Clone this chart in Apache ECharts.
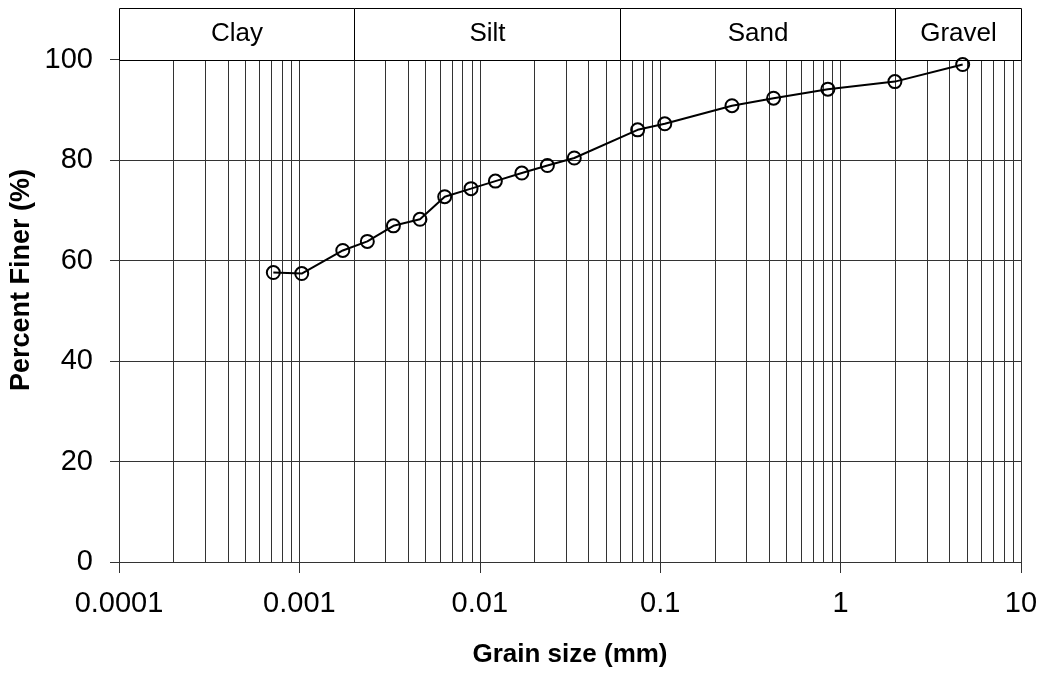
<!DOCTYPE html>
<html lang="en">
<head>
    <meta charset="UTF-8">
    <title>Grain size distribution</title>
    <style>
        html, body { margin: 0; padding: 0; background: #fff; }
        #main { width: 1045px; height: 673px; }
    </style>
    <script src="https://cdn.jsdelivr.net/npm/echarts@6/dist/echarts.min.js"></script>
</head>
<body>
    <div id="main"></div>
    <script type="text/javascript">
        // grain size (mm) and percent finer
        var grainSize = [0.000717, 0.00103, 0.00174, 0.00238, 0.00332, 0.00466, 0.00639, 0.00894,
            0.0122, 0.0171, 0.0237, 0.0334, 0.075, 0.106, 0.25, 0.425, 0.85, 2.0, 4.75];
        var percentFiner = [57.6, 57.4, 62.0, 63.8, 66.9, 68.2, 72.7, 74.3,
            75.8, 77.4, 78.9, 80.4, 86.0, 87.2, 90.8, 92.3, 94.1, 95.6, 99.0];

        // x axis decades and their labels
        var xTickValues = [0.0001, 0.001, 0.01, 0.1, 1, 10];
        var xTickLabels = ['0.0001', '0.001', '0.01', '0.1', '1', '10'];

        // minor vertical grid lines (2..9 in every decade)
        var minorGrid = [
            0.0002, 0.0003, 0.0004, 0.0005, 0.0006, 0.0007, 0.0008, 0.0009,
            0.002, 0.003, 0.004, 0.005, 0.006, 0.007, 0.008, 0.009,
            0.02, 0.03, 0.04, 0.05, 0.06, 0.07, 0.08, 0.09,
            0.2, 0.3, 0.4, 0.5, 0.6, 0.7, 0.8, 0.9,
            2, 3, 4, 5, 6, 7, 8, 9
        ];

        // soil classes in the band above the plot
        var zoneNames = ['Clay', 'Silt', 'Sand', 'Gravel'];
        var zoneLimits = [[0.0001, 0.002], [0.002, 0.06], [0.06, 2], [2, 10]];

        var font = '"Liberation Sans", Arial, sans-serif';
        var gridColor = '#333';

        var chart = echarts.init(document.getElementById('main'));

        var option = {
            animation: false,
            grid: [
                { left: 119, right: 24, top: 59.5, bottom: 110.5 },
                { left: 119, right: 24, top: 8, height: 51.5 }
            ],
            xAxis: [{
                type: 'log',
                logBase: 10,
                min: 0.0001,
                max: 10,
                gridIndex: 0,
                axisLine: { show: true, onZero: false, lineStyle: { color: gridColor, width: 1 } },
                axisTick: { show: true, length: 11, lineStyle: { color: gridColor } },
                minorTick: { show: false },
                axisLabel: {
                    fontSize: 29,
                    fontFamily: font,
                    color: '#000',
                    margin: 27,
                    formatter: function (v) {
                        for (var i = 0; i < xTickValues.length; i++) {
                            if (Math.abs(Math.log10(v) - Math.log10(xTickValues[i])) < 1e-6) return xTickLabels[i];
                        }
                        return '';
                    }
                },
                splitLine: { show: true, lineStyle: { color: gridColor, width: 1 } },
                name: 'Grain size (mm)',
                nameLocation: 'middle',
                nameGap: 80,
                nameTextStyle: { fontSize: 26, fontWeight: 'bold', color: '#000', fontFamily: font }
            }, {
                type: 'log',
                logBase: 10,
                min: 0.0001,
                max: 10,
                gridIndex: 1,
                show: false
            }],
            yAxis: [{
                type: 'value',
                min: 0,
                max: 100,
                interval: 20,
                gridIndex: 0,
                axisLine: { show: true, lineStyle: { color: gridColor, width: 1 } },
                axisTick: { show: true, length: 9, lineStyle: { color: gridColor } },
                axisLabel: { fontSize: 29, fontFamily: font, color: '#000', margin: 26 },
                splitLine: { show: true, lineStyle: { color: gridColor, width: 1 } }
            }, {
                type: 'value',
                min: 0,
                max: 1,
                gridIndex: 1,
                show: false
            }],
            graphic: [{
                type: 'text',
                x: 22,
                y: 280,
                rotation: Math.PI / 2,
                style: {
                    text: 'Percent Finer (%)',
                    fontSize: 27,
                    fontWeight: 'bold',
                    fontFamily: font,
                    fill: '#000',
                    align: 'center',
                    verticalAlign: 'middle'
                }
            }],
            series: [{
                // minor grid lines
                type: 'custom',
                xAxisIndex: 0,
                yAxisIndex: 0,
                silent: true,
                z: 1,
                data: minorGrid.map(function (v) { return [v, 0]; }),
                renderItem: function (params, api) {
                    var v = api.value(0);
                    var p1 = api.coord([v, 0]);
                    var p2 = api.coord([v, 100]);
                    var x = Math.round(p1[0]) + 0.5;
                    return {
                        type: 'line',
                        shape: { x1: x, y1: p1[1], x2: x, y2: p2[1] },
                        style: { stroke: gridColor, lineWidth: 1 }
                    };
                }
            }, {
                // class band
                type: 'custom',
                xAxisIndex: 1,
                yAxisIndex: 1,
                silent: true,
                data: zoneLimits,
                renderItem: function (params, api) {
                    var a = api.coord([api.value(0), 1]);
                    var b = api.coord([api.value(1), 0]);
                    var x1 = Math.round(a[0]) + 0.5, x2 = Math.round(b[0]) + 0.5;
                    var y1 = Math.round(a[1]) + 0.5, y2 = Math.round(b[1]) + 0.5;
                    return {
                        type: 'group',
                        children: [{
                            type: 'rect',
                            shape: { x: x1, y: y1, width: x2 - x1, height: y2 - y1 },
                            style: { fill: '#fff', stroke: '#000', lineWidth: 1 }
                        }, {
                            type: 'text',
                            style: {
                                text: zoneNames[params.dataIndex],
                                x: (x1 + x2) / 2,
                                y: (y1 + y2) / 2 - 1,
                                align: 'center',
                                verticalAlign: 'middle',
                                fontSize: 26,
                                fontFamily: font,
                                fill: '#000'
                            }
                        }]
                    };
                }
            }, {
                name: 'Percent finer',
                type: 'line',
                xAxisIndex: 0,
                yAxisIndex: 0,
                z: 5,
                data: grainSize.map(function (g, i) { return [g, percentFiner[i]]; }),
                symbol: 'circle',
                symbolSize: 13,
                itemStyle: { color: 'rgba(0,0,0,0)', borderColor: '#000', borderWidth: 2 },
                lineStyle: { color: '#000', width: 2 }
            }]
        };

        chart.setOption(option);
    </script>
</body>
</html>
